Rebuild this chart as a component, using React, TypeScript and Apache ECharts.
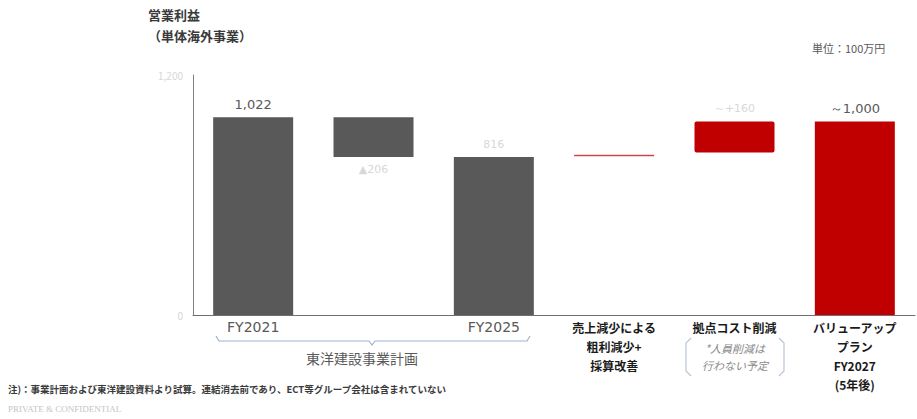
import React, { useEffect, useRef } from "react";
import * as echarts from "echarts";

const categories = [
  "FY2021",
  "",
  "FY2025",
  "売上減少による\n粗利減少+\n採算改善",
  "拠点コスト削減",
  "バリューアップ\nプラン\nFY2027\n(5年後)",
];
// bar bottoms and tops (単位：100万円)
const barLow = [0, 816, 0, 820, 840, 0];
const barHigh = [1022, 1022, 816, 828, 1000, 1000];
const valueLabels = ["1,022", "▲206", "816", "", "～+160", "～1,000"];
const labelFaint = [false, true, true, false, true, false];
const barColors = ["#595959", "#595959", "#595959", "#C8484C", "#C00000", "#C00000"];
const yTickLabels: Record<number, string> = { 0: "0", 1240: "1,200" };

const FONT = "'Noto Sans CJK JP', 'Noto Sans', sans-serif";

export default function App() {
  const ref = useRef<HTMLDivElement>(null);
  useEffect(() => {
    if (!ref.current) return;
    const chart = echarts.init(ref.current, null, { renderer: "svg" });
    const base = barLow;
    const visible = barHigh.map((h, i) => h - barLow[i]);
    chart.setOption({
      animation: false,
      textStyle: { fontFamily: FONT },
      grid: { left: 193, right: 2, top: 75, bottom: 104 },
      xAxis: {
        type: "category",
        data: categories,
        axisLine: { lineStyle: { color: "#6f6f6f", width: 1 } },
        axisTick: { show: false },
        axisLabel: {
          interval: 0,
          margin: 3,
          verticalAlign: "top",
          formatter: (v: string, i: number) =>
            i === 0 || i === 2 ? `{g|${v}}` : v.split("\n").map((s) => `{b|${s}}`).join("\n"),
          rich: {
            g: { color: "#595959", fontSize: 14, lineHeight: 18, fontFamily: "'DejaVu Sans', sans-serif" },
            b: { color: "#1a1a1a", fontSize: 12, fontWeight: "bold", lineHeight: 19, fontFamily: FONT },
          },
        },
      },
      yAxis: {
        type: "value",
        min: 0,
        max: 1240,
        interval: 1240,
        splitLine: { show: false },
        axisLine: { show: true, lineStyle: { color: "#7f7f7f" } },
        axisTick: { show: false },
        axisLabel: {
          margin: 10,
          color: "#d6d6d6",
          fontSize: 10,
          formatter: (v: number) => yTickLabels[v] ?? "",
        },
      },
      series: [
        {
          type: "bar",
          stack: "w",
          data: base,
          barWidth: 80,
          itemStyle: { color: "transparent" },
          silent: true,
        },
        {
          type: "bar",
          stack: "w",
          barWidth: 80,
          data: visible.map((v, i) => ({
            value: v,
            itemStyle: { color: barColors[i], borderRadius: i === 4 ? 2 : 0 },
            label: {
              show: valueLabels[i] !== "",
              position: i === 1 ? "bottom" : "top",
              distance: labelFaint[i] ? 7 : 6,
              formatter: valueLabels[i],
              color: labelFaint[i] ? "#d8d8d8" : "#595959",
              fontSize: labelFaint[i] ? 11 : 13,
              fontFamily: "'DejaVu Sans', sans-serif",
            },
          })),
        },
      ],
      graphic: [
        {
          type: "text",
          left: 148,
          top: 8,
          style: { text: "営業利益", fontSize: 13, fontWeight: "bold", fill: "#3a3a3a", fontFamily: FONT },
        },
        {
          type: "text",
          left: 148,
          top: 29,
          style: { text: "（単体海外事業）", fontSize: 13, fontWeight: "bold", fill: "#3a3a3a", fontFamily: FONT },
        },
        {
          type: "text",
          left: 812,
          top: 42,
          style: { text: "単位：100万円", fontSize: 11, fill: "#595959", fontFamily: FONT },
        },
        {
          type: "polyline",
          shape: {
            points: [
              [216, 336], [219, 341], [369, 341], [372, 345], [375, 341], [527, 341], [530, 336],
            ],
          },
          style: { stroke: "#9db3cf", lineWidth: 1.2, fill: "none" },
        },
        {
          type: "text",
          left: 306,
          top: 351,
          style: { text: "東洋建設事業計画", fontSize: 14, fill: "#595959", fontFamily: FONT },
        },
        {
          type: "polyline",
          shape: { points: [[691, 338], [686, 343], [686, 371], [691, 376]] },
          style: { stroke: "#b7c6d8", lineWidth: 1.2, fill: "none" },
        },
        {
          type: "polyline",
          shape: { points: [[779, 338], [784, 343], [784, 371], [779, 376]] },
          style: { stroke: "#b7c6d8", lineWidth: 1.2, fill: "none" },
        },
        {
          type: "text",
          x: 735,
          y: 339,
          style: {
            text: "*人員削減は\n行わない予定",
            align: "center",
            fontSize: 11,
            lineHeight: 17,
            fontStyle: "italic",
            fill: "#8a8a8a",
            fontFamily: FONT,
          },
        },
        {
          type: "text",
          left: 8,
          top: 384,
          style: {
            text: "注)：事業計画および東洋建設資料より試算。連結消去前であり、ECT等グループ会社は含まれていない",
            fontSize: 9.5,
            fontWeight: "bold",
            fill: "#3a3a3a",
            fontFamily: FONT,
          },
        },
        {
          type: "text",
          left: 8,
          top: 404,
          style: {
            text: "PRIVATE & CONFIDENTIAL",
            fontSize: 9,
            fill: "#c4c4c4",
            fontFamily: "'Liberation Serif', serif",
          },
        },
      ],
    });
    return () => chart.dispose();
  }, []);
  return (
    <div
      ref={ref}
      style={{ position: "fixed", left: 0, top: 0, width: 917, height: 419, background: "#fff" }}
    />
  );
}
